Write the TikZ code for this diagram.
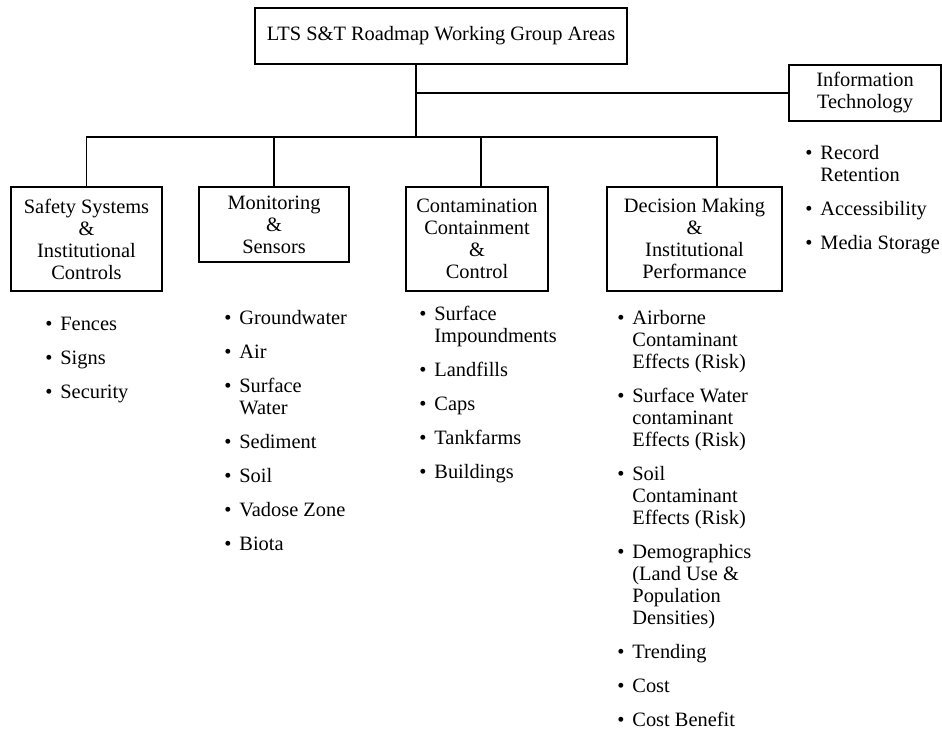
\documentclass[tikz,border=0pt]{standalone}
\usepackage{fontspec}
\setmainfont{Liberation Serif}
\tikzset{
    box/.style={draw, line width=0.6pt, align=center, inner sep=0pt, font=\fontsize{10.2}{11}\selectfont},
    items/.style={anchor=north west, align=left, inner sep=0pt, font=\fontsize{10.2}{11}\selectfont},
    link/.style={line width=0.6pt}
}
\newcommand{\itm}{\strut\llap{\textbullet\hspace{4pt}}}

\begin{document}
\begin{tikzpicture}[x=0.5pt, y=-0.5pt]
  \useasboundingbox (0,0) rectangle (942,738);
  \node [box, minimum width=186pt, minimum height=28pt] (top) at (441,36) {LTS S\&T Roadmap Working Group Areas};
  \node [box, minimum width=76pt, minimum height=28pt] (it) at (865,93) {Information\\Technology};
  \node [box, minimum width=75.5pt, minimum height=52pt] (safety) at (86.5,239) {Safety Systems\\\&\\Institutional\\Controls};
  \node [box, minimum width=75pt, minimum height=37.5pt] (monitor) at (274,224.5) {Monitoring\\\&\\Sensors};
  \node [box, minimum width=71pt, minimum height=52pt] (contain) at (477,239) {Contamination\\Containment\\\&\\Control};
  \node [box, minimum width=87.5pt, minimum height=52pt] (decide) at (694.5,239) {Decision Making\\\&\\Institutional\\Performance};

  \coordinate (bus) at (416,137);
  \draw [link] ([xshift=-12.5pt]top.south) -- (bus);
  \draw [link] (bus |- it.west) -- (it.west);
  \draw [link] (safety.north) |- (bus) -| ([xshift=11.25pt]decide.north);
  \draw [link] (monitor.north) -- (monitor.north |- bus);
  \draw [link] ([xshift=2pt]contain.north) -- ([xshift=2pt]contain.north |- bus);

  \node [items] (safetylist) at (60,314.6) {\itm Fences\\[6pt]\itm Signs\\[6pt]\itm Security};
  \node [items] (monitorlist) at (239,308.6) {\itm Groundwater\\[6pt]\itm Air\\[6pt]\itm Surface\\Water\\[6pt]\itm Sediment\\[6pt]\itm Soil\\[6pt]\itm Vadose Zone\\[6pt]\itm Biota};
  \node [items] (containlist) at (434,304.6) {\itm Surface\\Impoundments\\[6pt]\itm Landfills\\[6pt]\itm Caps\\[6pt]\itm Tankfarms\\[6pt]\itm Buildings};
  \node [items] (decidelist) at (632,308.6) {\itm Airborne\\Contaminant\\Effects (Risk)\\[6pt]\itm Surface Water\\contaminant\\Effects (Risk)\\[6pt]\itm Soil\\Contaminant\\Effects (Risk)\\[6pt]\itm Demographics\\(Land Use \&\\Population\\Densities)\\[6pt]\itm Trending\\[6pt]\itm Cost\\[6pt]\itm Cost Benefit};
  \node [items] (itlist) at (820,143.6) {\itm Record\\Retention\\[6pt]\itm Accessibility\\[6pt]\itm Media Storage};
\end{tikzpicture}
\end{document}
